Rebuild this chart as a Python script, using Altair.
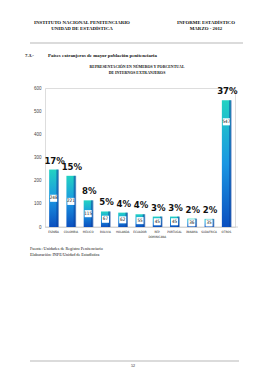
import altair as alt
import pandas as pd

countries = ["ESPAÑA", "COLOMBIA", "MEXICO", "BOLIVIA", "HOLANDA", "ECUADOR",
             "REP. DOMINICANA", "PORTUGAL", "PANAMA", "SUDAFRICA", "OTROS"]
internos = [248, 221, 115, 67, 62, 55, 45, 45, 36, 35, 547]
porcentaje = [17, 15, 8, 5, 4, 4, 3, 3, 2, 2, 37]
y_ticks = [0, 100, 200, 300, 400, 500, 600]

df = pd.DataFrame({"pais": countries, "internos": internos, "pct": porcentaje})

SERIF = "Liberation Serif"
NARROW = "DejaVu Sans Condensed, Liberation Sans Narrow, Liberation Sans, sans-serif"

xenc = alt.X("pais:N", sort=countries, title=None,
             scale=alt.Scale(paddingInner=0.4, paddingOuter=0.2),
             axis=alt.Axis(labelFontSize=3, labelFont=NARROW, labelAngle=0,
                           labelColor="#222", ticks=False, domain=False,
                           labelPadding=3, labelLimit=40, labelOverlap=False,
                           labelExpr="datum.label == 'REP. DOMINICANA' ? ['REP.', 'DOMINICANA'] : datum.label"))
yscale = alt.Scale(domain=[0, 600])

base = alt.Chart(df)

grad = alt.Gradient(
    gradient="linear",
    stops=[alt.GradientStop(color="#0b4fbf", offset=0),
           alt.GradientStop(color="#1a96e2", offset=0.5),
           alt.GradientStop(color="#22d2c2", offset=1)],
    x1=0, x2=0, y1=1, y2=0)

bars = base.mark_bar(size=9, color=grad).encode(
    x=xenc,
    y=alt.Y("internos:Q", scale=yscale, title=None,
            axis=alt.Axis(values=y_ticks, tickCount=7, labelFontSize=4.5, labelColor="#444",
                          labelFont="Liberation Sans", ticks=False, labelOverlap=False,
                          labelBound=False, labelFlush=False,
                          domainColor="#dddddd", domainWidth=0.6, grid=False,
                          labelPadding=4)))

side = base.mark_bar(size=2.5, xOffset=4, color="#0a3f9c", opacity=0.55).encode(
    x=alt.X("pais:N", sort=countries), y=alt.Y("internos:Q", scale=yscale))

floor = alt.Chart(alt.Data(values=[{}])).mark_rule(color="#cccccc", strokeWidth=0.8).encode(
    x=alt.value(0), x2=alt.value(193), y=alt.datum(0, scale=yscale))

lab_base = base.transform_calculate(
    pos="datum.internos > 500 ? datum.internos * 0.83 : datum.internos / 2")

boxes = lab_base.mark_square(size=50, color="white", opacity=1).encode(
    x=alt.X("pais:N", sort=countries), y=alt.Y("pos:Q", scale=yscale))

vals = lab_base.mark_text(fontSize=4.6, font=NARROW, color="#111", baseline="middle").encode(
    x=alt.X("pais:N", sort=countries), y=alt.Y("pos:Q", scale=yscale),
    text="internos:Q")

pcts = base.transform_calculate(lbl="datum.pct + '%'").mark_text(
    fontSize=9.5, fontWeight="bold", font=NARROW, color="#111",
    baseline="bottom", dy=-4, dx=1).encode(
    x=alt.X("pais:N", sort=countries), y=alt.Y("internos:Q", scale=yscale),
    text="lbl:N")


def txt(s, x, y, size=5.0, weight="normal", align="center", font=SERIF, color="#111"):
    return alt.Chart(alt.Data(values=[{}])).mark_text(
        text=s, fontSize=size, fontWeight=weight, align=align, baseline="middle",
        font=font, color=color).encode(x=alt.value(x), y=alt.value(y))


def hline(x1, x2, y):
    return alt.Chart(alt.Data(values=[{}])).mark_rule(color="#999999", strokeWidth=0.7).encode(
        x=alt.value(x1), x2=alt.value(x2), y=alt.value(y))


texts = [
    txt("INSTITUTO NACIONAL PENITENCIARIO", 37, -65.5, 4.9, "bold"),
    txt("UNIDAD DE ESTADÍSTICA", 37, -59, 4.9, "bold"),
    txt("INFORME ESTADÍSTICO", 161, -65.5, 4.9, "bold"),
    txt("MARZO - 2012", 161, -59, 4.9, "bold"),
    hline(-15, 198, -45),
    txt("7.3.-", -20, -32, 4.9, "bold", "left"),
    txt("Países extranjeros de mayor población penitenciaria", 3, -32, 4.9, "bold", "left"),
    txt("REPRESENTACIÓN EN NÚMEROS Y PORCENTUAL", 92, -21, 3.9, "bold"),
    txt("DE INTERNOS EXTRANJEROS", 92, -15, 3.9, "bold"),
    txt("Fuente: Unidades de Registro Penitenciario", -15, 161, 4.2, "normal", "left"),
    txt("Elaboración: INPE/Unidad de Estadística", -15, 166.5, 4.2, "normal", "left"),
    hline(-15, 194, 273),
    txt("52", 88, 278, 4.2),
]

chart = alt.layer(floor, bars, side, boxes, vals, pcts, *texts).properties(
    width=190, height=139,
    autosize=alt.AutoSizeParams(type="none"),
    padding={"left": 45, "top": 88, "right": 33, "bottom": 153},
).configure_view(stroke=None).configure(background="white")

chart.save("out.html", embed_options={"renderer": "svg", "actions": False})
